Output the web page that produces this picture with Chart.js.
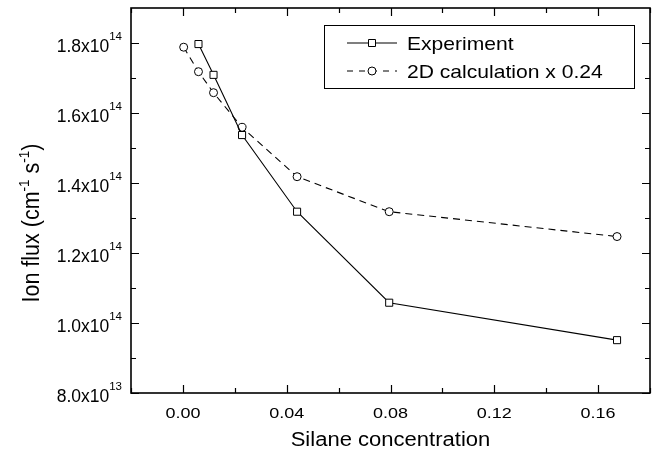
<!DOCTYPE html>
<html>
<head>
<meta charset="utf-8">
<title>Ion flux vs silane concentration</title>
<script src="https://cdn.jsdelivr.net/npm/chart.js@4"></script>
<style>
  body { margin: 0; background: #fff; overflow: hidden; }
  canvas { display: block; }
</style>
</head>
<body>
<canvas id="chart" width="656" height="453"></canvas>
<script>
// Values
const expConc = [0.006, 0.0118, 0.0228, 0.044, 0.0795, 0.1673];
const expFlux = [1.797e14, 1.709e14, 1.537e14, 1.318e14, 1.058e14, 0.951e14];
const calcConc = [0.0003, 0.006, 0.0118, 0.0228, 0.044, 0.0795, 0.1673];
const calcFlux = [1.788e14, 1.718e14, 1.658e14, 1.559e14, 1.418e14, 1.318e14, 1.247e14];

const xTicks = [0, 0.04, 0.08, 0.12, 0.16];
const xMinor = [-0.02, 0.02, 0.06, 0.10, 0.14, 0.18];
const yTicks = [8e13, 1e14, 1.2e14, 1.4e14, 1.6e14, 1.8e14];
const yMinor = [9e13, 1.1e14, 1.3e14, 1.5e14, 1.7e14];
const yTickBase = ['8.0x10', '1.0x10', '1.2x10', '1.4x10', '1.6x10', '1.8x10'];
const yTickExp = ['13', '14', '14', '14', '14', '14'];
const seriesNames = ['Experiment', '2D calculation x 0.24'];

const FONT = '"Liberation Sans", Arial, sans-serif';

const toPoints = (xs, ys) => xs.map((x, i) => ({ x: x, y: ys[i] }));

// the original's lettering is a bit wider than Arial, so stretch it sideways
function wideText(ctx, text, x, y, size, sx, align) {
    ctx.save();
    ctx.translate(x, y);
    ctx.scale(sx, 1);
    ctx.font = size + 'px ' + FONT;
    ctx.textAlign = align;
    ctx.textBaseline = 'alphabetic';
    ctx.fillText(text, 0, 0);
    ctx.restore();
}

// frame, inward ticks, labels, titles and legend
const framePlugin = {
    id: 'frame',
    afterDraw(chart) {
        const ctx = chart.ctx;
        const a = chart.chartArea;
        const xs = chart.scales.x;
        const ys = chart.scales.y;
        ctx.save();
        ctx.strokeStyle = '#000';
        ctx.fillStyle = '#000';

        ctx.lineWidth = 1.6;
        ctx.strokeRect(a.left, a.top, a.right - a.left, a.bottom - a.top);

        ctx.lineWidth = 1.2;
        const tickX = (vals, len) => vals.forEach(v => {
            const px = Math.round(xs.getPixelForValue(v)) + 0.5;
            ctx.beginPath();
            ctx.moveTo(px, a.bottom); ctx.lineTo(px, a.bottom - len);
            ctx.moveTo(px, a.top); ctx.lineTo(px, a.top + len);
            ctx.stroke();
        });
        const tickY = (vals, len) => vals.forEach(v => {
            const py = Math.round(ys.getPixelForValue(v)) + 0.5;
            ctx.beginPath();
            ctx.moveTo(a.left, py); ctx.lineTo(a.left + len, py);
            ctx.moveTo(a.right, py); ctx.lineTo(a.right - len, py);
            ctx.stroke();
        });
        tickX(xTicks, 8); tickX(xMinor, 5);
        tickY(yTicks, 8); tickY(yMinor, 5);

        // x tick labels
        xTicks.forEach(v => {
            wideText(ctx, v.toFixed(2), xs.getPixelForValue(v), a.bottom + 25, 15.5, 1.16, 'center');
        });

        // y tick labels with superscript exponent
        ctx.textAlign = 'left';
        ctx.textBaseline = 'alphabetic';
        yTicks.forEach((v, i) => {
            const py = ys.getPixelForValue(v);
            ctx.font = '11.5px ' + FONT;
            const wSup = ctx.measureText(yTickExp[i]).width;
            ctx.font = '17.5px ' + FONT;
            const wBase = ctx.measureText(yTickBase[i]).width;
            const right = a.left - 9;
            ctx.fillText(yTickBase[i], right - wSup - wBase, py + 9);
            ctx.font = '11.5px ' + FONT;
            ctx.fillText(yTickExp[i], right - wSup, py - 3);
        });

        // x title
        wideText(ctx, 'Silane concentration', (a.left + a.right) / 2, a.bottom + 53, 19.5, 1.13, 'center');

        // y title, rotated, with superscripts
        const parts = [['Ion flux (cm', 21.5, 0], ['-1', 13.5, -9], [' s', 21.5, 0], ['-1', 13.5, -9], [')', 21.5, 0]];
        let total = 0;
        parts.forEach(p => { ctx.font = p[1] + 'px ' + FONT; total += ctx.measureText(p[0]).width; });
        ctx.save();
        ctx.translate(39, 223);
        ctx.scale(1.1, 1);
        ctx.rotate(-Math.PI / 2);
        ctx.textAlign = 'left';
        let cx = -total / 2;
        parts.forEach(p => {
            ctx.font = p[1] + 'px ' + FONT;
            ctx.fillText(p[0], cx, p[2]);
            cx += ctx.measureText(p[0]).width;
        });
        ctx.restore();

        // legend
        ctx.lineWidth = 1;
        ctx.strokeRect(324.5, 25.5, 310, 63);
        const rows = [43, 71];
        chart.data.datasets.forEach((ds, i) => {
            const y = rows[i];
            ctx.beginPath();
            ctx.setLineDash(ds.borderDash ? [6, 6] : []);
            ctx.lineWidth = ds.borderWidth;
            ctx.moveTo(347, y); ctx.lineTo(397, y);
            ctx.stroke();
            ctx.setLineDash([]);
            ctx.lineWidth = 1;
            ctx.fillStyle = '#fff';
            ctx.beginPath();
            if (ds.pointStyle === 'rect') {
                ctx.rect(368.5, y - 3.5, 7, 7);
            } else {
                ctx.arc(372, y, 4, 0, Math.PI * 2);
            }
            ctx.fill();
            ctx.stroke();
            ctx.fillStyle = '#000';
            wideText(ctx, seriesNames[i], 407, y + 7, 18.5, 1.14, 'left');
        });
        ctx.restore();
    }
};

new Chart(document.getElementById('chart'), {
    type: 'scatter',
    data: {
        datasets: [{
            label: seriesNames[0],
            data: toPoints(expConc, expFlux),
            showLine: true,
            borderColor: '#000',
            borderWidth: 1.1,
            pointStyle: 'rect',
            pointRadius: 5,
            pointBorderWidth: 1,
            pointBorderColor: '#000',
            pointBackgroundColor: '#fff'
        }, {
            label: seriesNames[1],
            data: toPoints(calcConc, calcFlux),
            showLine: true,
            borderColor: '#000',
            borderWidth: 1.1,
            borderDash: [7, 5],
            pointStyle: 'circle',
            pointRadius: 4,
            pointBorderWidth: 1,
            pointBorderColor: '#000',
            pointBackgroundColor: '#fff'
        }]
    },
    options: {
        responsive: false,
        devicePixelRatio: 1,
        animation: false,
        layout: { padding: { left: 131, right: 5, top: 8, bottom: 60 } },
        plugins: { legend: { display: false }, tooltip: { enabled: false } },
        scales: {
            x: { type: 'linear', min: -0.02, max: 0.18, display: false },
            y: { type: 'linear', min: 8e13, max: 1.9e14, display: false }
        }
    },
    plugins: [framePlugin]
});
</script>
</body>
</html>
